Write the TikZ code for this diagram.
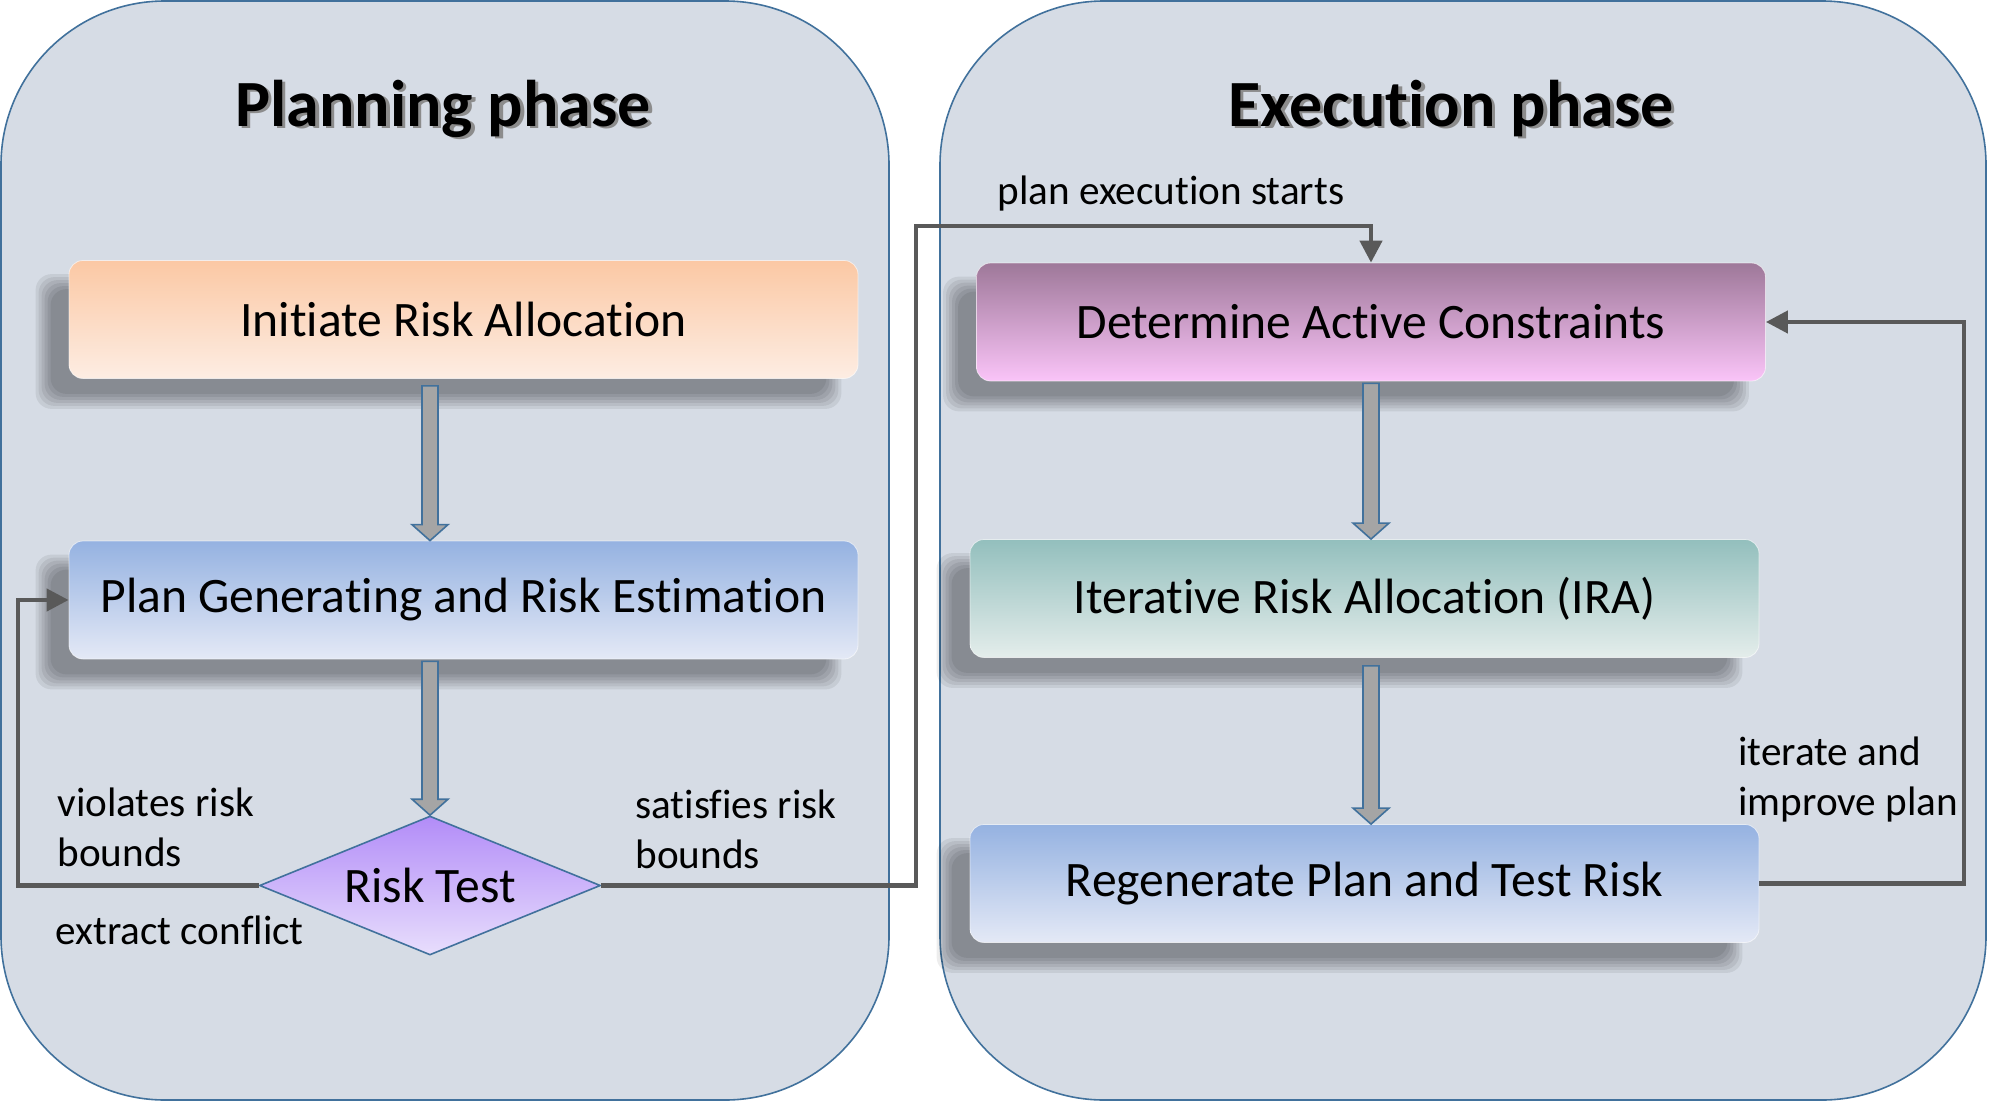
\documentclass[tikz,border=0pt]{standalone}
\usepackage{fontspec}
\setmainfont{Carlito}[Ligatures={NoCommon}]
\usetikzlibrary{shapes.geometric,arrows.meta,calc,backgrounds}
\pgfdeclarelayer{shade}
\pgfsetlayers{background,shade,main}

\definecolor{panelfill}{HTML}{D6DCE5}
\definecolor{panelline}{HTML}{41719C}
\definecolor{linkgray}{HTML}{595959}
\definecolor{arrowgray}{HTML}{A5A5A5}

% block arrow from #1 down to tip #2
\newcommand{\blockarrow}[2]{%
  \draw[blockarr] ($(#1)+(-8,0)$) -- ($(#2)+(-8,-16)$) -- ($(#2)+(-18,-16)$) -- (#2)
    -- ($(#2)+(18,-16)$) -- ($(#2)+(8,-16)$) -- ($(#1)+(8,0)$) -- cycle;}
% soft shadow behind a stage box
\newcommand{\stageshadow}[1]{%
  \foreach \d in {8,5,2,-1,-4,-7}
    \fill[black, fill opacity=0.07, rounded corners=8pt]
      ($(#1.south west)+(-25-\d,22+\d)$) rectangle ($(#1.north east)+(-25+\d,22-\d)$);}

\tikzset{
  panel/.style={draw=panelline, line width=0.8pt, fill=panelfill, rounded corners=82pt},
  phase/.style={font=\fontsize{33}{40}\selectfont\bfseries, anchor=base, inner sep=0pt},
  stage/.style={rounded corners=7pt, minimum width=394.5pt, minimum height=59pt,
    font=\fontsize{24.8}{30}\selectfont, draw=white, draw opacity=0.6},
  blockarr/.style={draw=panelline, line width=0.8pt, fill=arrowgray, line join=miter},
  link/.style={draw=linkgray, line width=2.2pt, -{Triangle[length=11pt,width=11pt]}},
  note/.style={font=\fontsize{20.6}{24.8}\selectfont, inner sep=0pt, align=left}
}

\begin{document}
\begin{tikzpicture}[x=0.5pt, y=-0.5pt]
\useasboundingbox (0,0) rectangle (1992,1103);

% the two phases
\begin{pgfonlayer}{background}
\node[panel, minimum width=444pt, minimum height=549.5pt] (planpanel) at (445,550.5) {};
\node[panel, minimum width=523pt, minimum height=549.5pt] (execpanel) at (1463,550.5) {};
\end{pgfonlayer}
\node[phase, text=black!45] (plantitleshade) at (446.5,128.5) {Planning phase};
\node[phase] (plantitle) at (443,126) {Planning phase};
\node[phase, text=black!45] (exectitleshade) at (1454.5,128.5) {Execution phase};
\node[phase] (exectitle) at (1451,126) {Execution phase};

% planning
\node[stage, top color={rgb,255:red,251;green,200;blue,164}, bottom color={rgb,255:red,253;green,237;blue,227}] (init) at (463.5,319.5) {Initiate Risk Allocation};
\node[stage, top color={rgb,255:red,149;green,178;blue,225}, bottom color={rgb,255:red,228;green,233;blue,246}] (pge) at (463.5,600) {Plan Generating and Risk Estimation};
\node[diamond, aspect=2.45, draw=panelline, line width=0.8pt, inner sep=0pt, minimum width=170.5pt, minimum height=69.5pt,
  top color={rgb,255:red,178;green,140;blue,248}, bottom color={rgb,255:red,232;green,222;blue,252},
  font=\fontsize{24.8}{30}\selectfont] (risk) at (430,885.5) {Risk Test};

% execution
\node[stage, top color={rgb,255:red,158;green,120;blue,153}, bottom color={rgb,255:red,250;green,196;blue,248}] (dac) at (1371,322) {Determine Active Constraints};
\node[stage, top color={rgb,255:red,147;green,191;blue,189}, bottom color={rgb,255:red,228;green,237;blue,235}] (ira) at (1364.5,598.5) {Iterative Risk Allocation (IRA)};
\node[stage, top color={rgb,255:red,149;green,178;blue,225}, bottom color={rgb,255:red,228;green,233;blue,246}] (regen) at (1364.5,883.5) {Regenerate Plan and Test Risk};

\begin{pgfonlayer}{shade}
\stageshadow{init}
\stageshadow{pge}
\stageshadow{dac}
\stageshadow{ira}
\stageshadow{regen}
\end{pgfonlayer}

% block arrows
\coordinate (a1) at ($(risk.north |- init.south)+(0,7)$);
\coordinate (b1) at (risk.north |- pge.north);
\coordinate (a2) at ($(risk.north |- pge.south)+(0,2)$);
\coordinate (a3) at ($(dac.south)+(0,2)$);
\coordinate (b3) at (a3 |- ira.north);
\coordinate (a4) at ($(dac.south |- ira.south)+(0,8)$);
\coordinate (b4) at (a4 |- regen.north);
\blockarrow{a1}{b1}
\blockarrow{a2}{risk.north}
\blockarrow{a3}{b3}
\blockarrow{a4}{b4}

% connectors
\coordinate (conflict) at (18,0);
\coordinate (startexec) at (916,226);
\coordinate (improve) at (1964,0);
\draw[link] (risk.west) -- (risk.west -| conflict) |- (pge.west);
\draw[link] (risk.east) -| (startexec) -| (dac.north);
\draw[link] (regen.east) -- (regen.east -| improve) |- (dac.east);

% labels
\node[note, anchor=base west] (violates) at (57,866) {violates risk\\bounds};
\node[note, anchor=base west] (extract) at (55,944) {extract conflict};
\node[note, anchor=base west] (satisfies) at (635,868) {satisfies risk\\bounds};
\node[note, anchor=base west] (execstarts) at (997,204) {plan execution starts};
\node[note, anchor=base west] (iterate) at (1738,815) {iterate and\\improve plan};
\end{tikzpicture}
\end{document}
